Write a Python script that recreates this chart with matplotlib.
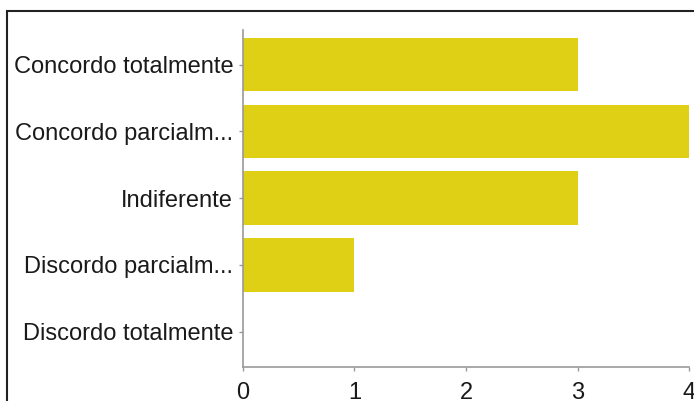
import matplotlib.pyplot as plt
from matplotlib.patches import Rectangle

plt.rcParams["font.family"] = ["Liberation Sans", "DejaVu Sans"]
plt.rcParams["font.size"] = 17

categorias = ['Concordo totalmente', 'Concordo parcialm...', 'Indiferente',
              'Discordo parcialm...', 'Discordo totalmente']
respostas = [3, 4, 3, 1, 0]
xticks = [0, 1, 2, 3, 4]

cor_barra = '#e0d015'
cor_eixo = '#999999'
cor_texto = '#1a1a1a'

fig = plt.figure(figsize=(6.94, 4.01), dpi=100)
ax = fig.add_axes([0.350, 0.085, 0.643, 0.840])

ax.barh(range(len(categorias)), respostas, height=0.8, color=cor_barra)
ax.set_yticks(range(len(categorias)))
ax.set_yticklabels(categorias)
ax.set_ylim(4.53, -0.52)
ax.set_xlim(0, 4)
ax.set_xticks(xticks)
ax.set_xticklabels([str(v) for v in xticks])

for lado in ['top', 'right']:
    ax.spines[lado].set_visible(False)
for lado in ['left', 'bottom']:
    ax.spines[lado].set_color(cor_eixo)
    ax.spines[lado].set_linewidth(1.2)
ax.tick_params(axis='both', colors=cor_eixo, labelcolor=cor_texto, length=3, width=1)
ax.tick_params(axis='y', pad=4)
ax.tick_params(axis='x', pad=8)

# moldura da captura
fig.add_artist(Rectangle((7 / 694, -0.2), 1.2, 1.2 - 11 / 401,
                         transform=fig.transFigure, fill=False,
                         edgecolor='#222222', linewidth=1.5, clip_on=False))

fig.savefig('out.png', dpi=100)
